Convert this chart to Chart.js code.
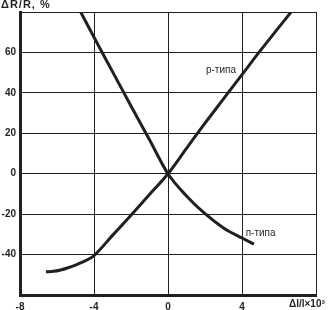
<!DOCTYPE html>
<html>
<head>
<meta charset="utf-8">
<script src="https://cdn.jsdelivr.net/npm/chart.js@4"></script>
<style>
html,body{margin:0;padding:0;background:#fff;}
#wrap{width:329px;height:310px;position:relative;}
</style>
</head>
<body>
<div id="wrap"><canvas id="c" width="329" height="310"></canvas></div>
<script>
// Data
const pX = [-6.6, -6.2, -5.8, -5.4, -5, -4.6, -4.2, -4, -3, -2, -1, 0, 1, 2, 3, 4, 5, 6, 6.7];
const pY = [-48.5, -48.3, -47.6, -46.5, -45.2, -43.6, -41.8, -40.5, -30.5, -20.5, -10.3, 0, 12.5, 25, 37, 49, 61, 72.5, 80.5];
const nX = [-4.75, -4, -3, -2, -1, 0, 1, 2, 3, 4, 4.65];
const nY = [80.5, 67.5, 50.5, 33.5, 16.8, 0, -11, -19.8, -26.8, -31.8, -34.8];
const xTicks = [-8, -4, 0, 4];
const yTicks = [60, 40, 20, 0, -20, -40];
const yTitle = 'ΔR/R, %';
const xTitle = 'Δl/l×10³';
const pLabel = 'р-типа';
const nLabel = 'п-типа';

const ink = '#231f20';
const toPts = (xs, ys) => xs.map((x, i) => ({x: x, y: ys[i]}));

const textPlugin = {
  id: 'texts',
  afterDraw(chart) {
    const ctx = chart.ctx;
    const xs = chart.scales.x, ys = chart.scales.y;
    ctx.save();
    ctx.fillStyle = ink;
    ctx.textBaseline = 'middle';
    ctx.textAlign = 'left';
    ctx.font = 'bold 11px "Liberation Sans", Arial, sans-serif';
    if ('letterSpacing' in ctx) ctx.letterSpacing = '1px';
    ctx.fillText(yTitle, 1, 5);
    if ('letterSpacing' in ctx) ctx.letterSpacing = '0px';
    ctx.font = 'bold 10px "Liberation Sans", Arial, sans-serif';
    ctx.fillText(xTitle, 289, 304);
    ctx.font = '10px "Liberation Sans", Arial, sans-serif';
    ctx.fillText(pLabel, xs.getPixelForValue(2.05), ys.getPixelForValue(51));
    ctx.fillText(nLabel, xs.getPixelForValue(4.2), ys.getPixelForValue(-29.5));
    ctx.restore();
  }
};

new Chart(document.getElementById('c'), {
  type: 'scatter',
  data: {
    datasets: [
      {label: pLabel, data: toPts(pX, pY), showLine: true, borderColor: ink, borderWidth: 3, pointRadius: 0, cubicInterpolationMode: 'monotone'},
      {label: nLabel, data: toPts(nX, nY), showLine: true, borderColor: ink, borderWidth: 3, pointRadius: 0, cubicInterpolationMode: 'monotone'}
    ]
  },
  options: {
    responsive: false,
    animation: false,
    layout: {padding: {left: 0, right: 13, top: 12, bottom: 0}},
    plugins: {legend: {display: false}, tooltip: {enabled: false}},
    scales: {
      x: {
        type: 'linear', min: -8, max: 8,
        afterBuildTicks: (s) => { s.ticks = [-8, -4, 0, 4, 8].map(v => ({value: v})); },
        afterFit: (s) => { s.height = 15; },
        grid: {color: ink, lineWidth: 1, drawTicks: false},
        border: {color: ink, width: 3},
        ticks: {
          padding: 6, maxRotation: 0, autoSkip: false, color: ink,
          font: {family: '"Liberation Sans", Arial, sans-serif', size: 10, weight: 'bold'},
          callback: (v) => xTicks.includes(v) ? String(v) : ''
        }
      },
      y: {
        type: 'linear', min: -60, max: 80,
        afterBuildTicks: (s) => { s.ticks = [-60, -40, -20, 0, 20, 40, 60, 80].map(v => ({value: v})); },
        afterFit: (s) => { s.width = 20; },
        grid: {color: ink, lineWidth: 1, drawTicks: false},
        border: {color: ink, width: 3},
        ticks: {
          padding: 4, color: ink, autoSkip: false,
          font: {family: '"Liberation Sans", Arial, sans-serif', size: 10, weight: 'bold'},
          callback: (v) => yTicks.includes(v) ? String(v) : ''
        }
      }
    }
  },
  plugins: [textPlugin]
});
</script>
</body>
</html>
